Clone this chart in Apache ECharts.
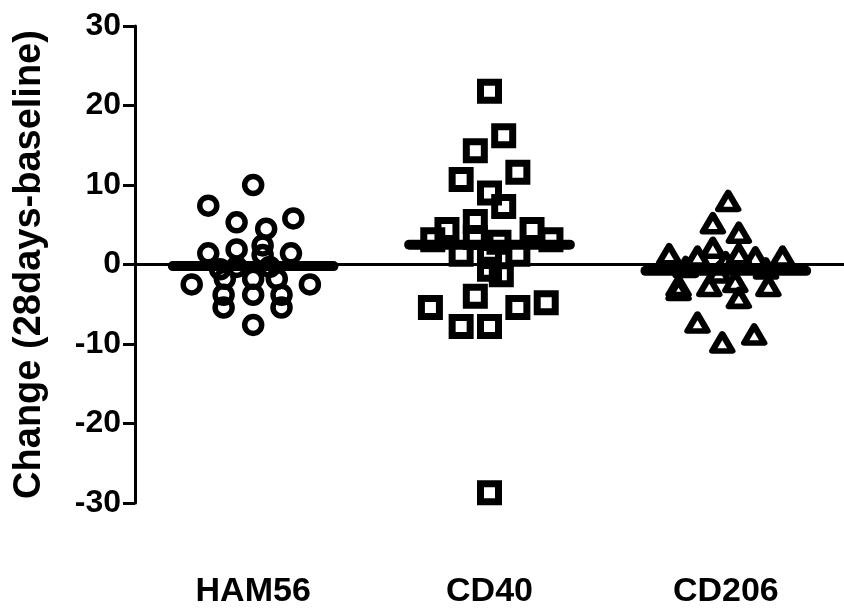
<!DOCTYPE html>
<html>
<head>
<meta charset="utf-8">
<script src="https://cdn.jsdelivr.net/npm/echarts@6/dist/echarts.min.js"></script>
<style>
  html, body { margin: 0; padding: 0; background: #fff; }
  #main { width: 844px; height: 611px; }
</style>
</head>
<body>
<div id="main"></div>
<script>
// groups on the x axis
var categories = ['HAM56', 'CD40', 'CD206'];
var yTicks = [-30, -20, -10, 0, 10, 20, 30];

// change values, with the horizontal spread of each point
var ham56Values = [10.0, 7.4, 5.3, 4.5, 5.8, 1.4, 1.9, 2.4, 1.2, 1.4, -0.3, -0.3, -0.6,
  -2.5, -1.8, -1.8, -1.8, -2.5, -3.8, -3.8, -3.8, -5.4, -5.4, -7.6];
var ham56Spread = [0, -0.19, -0.07, 0.055, 0.17, -0.19, -0.07, 0.04, 0.04, 0.16, -0.07, 0.07, -0.14,
  -0.26, -0.12, 0, 0.1, 0.24, -0.125, 0, 0.12, -0.125, 0.12, 0];

var cd40Values = [21.8, 16.2, 14.3, 11.6, 10.7, 9.0, 7.3, 5.4, 4.4, 4.4, 3.1, 3.1, 3.4, 2.8,
  1.3, 1.0, 1.3, -0.6, -1.3, -4.0, -5.4, -5.4, -4.8, -7.8, -7.8, -28.7];
var cd40Spread = [0, 0.06, -0.06, 0.12, -0.12, 0, 0.06, -0.06, -0.18, 0.18, -0.24, 0.26, -0.06, 0.04,
  -0.12, 0, 0.12, 0, 0.05, -0.06, -0.25, 0.12, 0.24, -0.12, 0, 0];

var cd206Values = [8.0, 5.2, 4.0, 2.1, 1.3, 1.0, 1.3, 0.9, 1.0, 0.3, -0.3, -0.5, -1.0,
  -2.7, -2.7, -2.2, -4.2, -2.7, -3.2, -7.3, -9.8, -8.8];
var cd206Spread = [0.01, -0.055, 0.055, -0.055, -0.24, -0.12, 0.055, 0.125, 0.24, 0, -0.17, 0.17, -0.03,
  -0.2, -0.07, 0.04, 0.055, 0.18, -0.2, -0.12, -0.015, 0.12];

// median bar per group
var medians = [-0.2, 2.5, -0.8];
var medianHalfWidth = 0.34;

function points(pos, vals, spread) {
  return vals.map(function (v, i) { return [pos + spread[i], v]; });
}

var chart = echarts.init(document.getElementById('main'));
var font = "'Liberation Sans', Arial, sans-serif";
var hollow = 'rgba(0,0,0,0)';

var series = [
  {
    type: 'line',
    data: [[0.5, 0], [3.5, 0]],
    showSymbol: false,
    silent: true,
    lineStyle: { color: '#000', width: 3 }
  },
  {
    name: 'HAM56', type: 'scatter', symbol: 'circle', symbolSize: 17,
    data: points(1, ham56Values, ham56Spread),
    itemStyle: { color: hollow, borderColor: '#000', borderWidth: 5.5, opacity: 1 }
  },
  {
    name: 'CD40', type: 'scatter', symbol: 'rect', symbolSize: 18,
    data: points(2, cd40Values, cd40Spread),
    itemStyle: { color: hollow, borderColor: '#000', borderWidth: 7, opacity: 1 }
  },
  {
    name: 'CD206', type: 'scatter', symbol: 'triangle', symbolSize: [20, 17],
    data: points(3, cd206Values, cd206Spread),
    itemStyle: { color: hollow, borderColor: '#000', borderWidth: 6, borderJoin: 'round', opacity: 1 }
  }
];

medians.forEach(function (m, i) {
  series.push({
    type: 'line',
    data: [[i + 1 - medianHalfWidth, m], [i + 1 + medianHalfWidth, m]],
    showSymbol: false,
    silent: true,
    lineStyle: { color: '#000', width: 10, cap: 'round' }
  });
});

var option = {
  animation: false,
  backgroundColor: '#fff',
  grid: { left: 135, top: 26, width: 712, bottom: 108 },
  xAxis: [
    {
      type: 'value', min: 0.5, max: 3.5, show: false
    },
    {
      type: 'category', data: categories, boundaryGap: true, position: 'bottom',
      axisLine: { show: false }, axisTick: { show: false },
      axisLabel: { margin: 72, color: '#000', fontSize: 34, fontWeight: 'bold', fontFamily: font }
    }
  ],
  yAxis: {
    type: 'value', min: -30, max: 30, interval: 10,
    name: 'Change (28days-baseline)', nameLocation: 'middle', nameGap: 86,
    nameTextStyle: { color: '#000', fontSize: 38, fontWeight: 'bold', fontFamily: font },
    axisLine: { show: true, lineStyle: { color: '#000', width: 3 } },
    axisTick: { show: true, length: 12, lineStyle: { color: '#000', width: 3 } },
    axisLabel: {
      margin: 14, color: '#000', fontSize: 32, fontWeight: 'bold', fontFamily: font,
      formatter: function (v) { return yTicks.indexOf(v) >= 0 ? String(v) : ''; }
    },
    splitLine: { show: false }
  },
  series: series
};

chart.setOption(option);
</script>
</body>
</html>
